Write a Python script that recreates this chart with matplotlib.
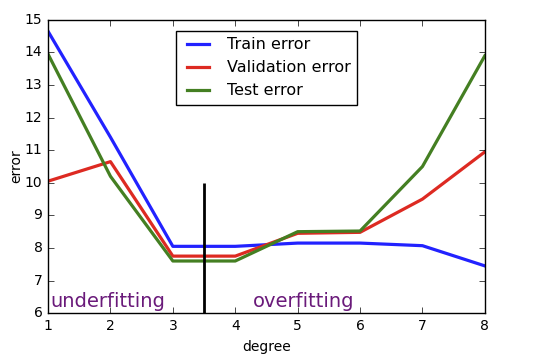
import matplotlib
matplotlib.use('Agg')
import matplotlib.pyplot as plt

plt.style.use('classic')

# Data
degree = [1, 2, 3, 4, 5, 6, 7, 8]
train_err = [14.65, 11.4, 8.05, 8.05, 8.15, 8.15, 8.07, 7.45]
val_err = [10.05, 10.65, 7.75, 7.75, 8.45, 8.48, 9.5, 10.95]
test_err = [13.95, 10.2, 7.6, 7.6, 8.5, 8.52, 10.5, 13.9]
split_degree = 3.5

fig = plt.figure(figsize=(5.46, 3.62), dpi=100, facecolor='white')
ax = fig.add_axes([0.088, 0.135, 0.8, 0.81])

ax.plot(degree, train_err, color='#2222ff', lw=2.3, label='Train error')
ax.plot(degree, val_err, color='#dd2a22', lw=2.3, label='Validation error')
ax.plot(degree, test_err, color='#447f22', lw=2.3, label='Test error')
ax.vlines(split_degree, 6, 10, color='black', lw=2)

ax.text(1.04, 6.2, 'underfitting', color='#6a1a7a', fontsize=14)
ax.text(4.28, 6.2, 'overfitting', color='#6a1a7a', fontsize=14)

ax.set_xlim(1, 8)
ax.set_ylim(6, 15)
ax.set_xlabel('degree', fontsize=10)
ax.set_ylabel('error', fontsize=10, labelpad=1)
ax.tick_params(labelsize=10)

ax.legend(loc='upper center', fontsize=11.5, bbox_to_anchor=(0.5, 0.99))

fig.savefig('out.png', dpi=100, facecolor='white')
